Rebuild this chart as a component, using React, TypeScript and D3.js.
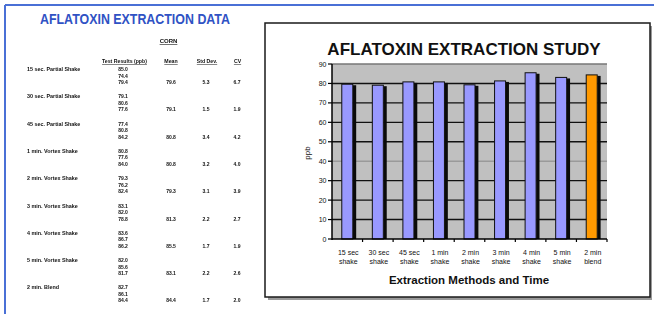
import React from "react";
import * as d3 from "d3";

// ---- chart data ----
const categories = [
  "15 sec shake",
  "30 sec shake",
  "45 sec shake",
  "1 min shake",
  "2 min shake",
  "3 min shake",
  "4 min shake",
  "5 min shake",
  "2 min blend",
];
const meanPpb = [79.6, 79.1, 80.8, 80.8, 79.3, 81.3, 85.5, 83.1, 84.4];
const highlightIndex = 8;
const yTicks = [0, 10, 20, 30, 40, 50, 60, 70, 80, 90];

// ---- table data ----
const tableLabels = [
  "15 sec. Partial Shake",
  "30 sec. Partial Shake",
  "45 sec. Partial Shake",
  "1 min. Vortex Shake",
  "2 min. Vortex Shake",
  "3 min. Vortex Shake",
  "4 min. Vortex Shake",
  "5 min. Vortex Shake",
  "2 min. Blend",
];
const readings = [
  ["85.0", "74.4", "79.4"],
  ["79.1", "80.6", "77.6"],
  ["77.4", "80.8", "84.2"],
  ["80.8", "77.6", "84.0"],
  ["79.3", "76.2", "82.4"],
  ["83.1", "82.0", "78.8"],
  ["83.6", "86.7", "86.2"],
  ["82.0", "85.6", "81.7"],
  ["82.7", "86.1", "84.4"],
];
const stdDevs = ["5.3", "1.5", "3.4", "3.2", "3.1", "2.2", "1.7", "2.2", "1.7"];
const cvs = ["6.7", "1.9", "4.2", "4.0", "3.9", "2.7", "1.9", "2.6", "2.0"];
const tableHeaders = ["Test Results (ppb)", "Mean", "Std Dev.", "CV"];

const FONT = "'Liberation Sans', Arial, Helvetica, sans-serif";

export default function App() {
  const W = 654;
  const H = 314;
  const plot = { left: 332, right: 607, top: 64, bottom: 239 };
  const x = d3
    .scaleBand<string>()
    .domain(categories)
    .range([plot.left, plot.right])
    .padding(0);
  const y = d3.scaleLinear().domain([0, 90]).range([plot.bottom, plot.top]);
  const bw = x.bandwidth();

  const colX = { val: 123, mean: 171, sd: 206, cv: 237 };
  const headerX = [124.5, 171, 207, 237.5];

  return (
    <svg
      width={W}
      height={H}
      style={{ position: "absolute", left: 0, top: 0, background: "#fff" }}
      fontFamily={FONT}
    >
      <defs>
        <filter id="scan" x="-5%" y="-5%" width="110%" height="110%">
          <feGaussianBlur stdDeviation="0.35" />
        </filter>
      </defs>
      <rect x={0} y={0} width={W} height={H} fill="#fff" />

      {/* page frame */}
      <line x1={5} x2={W} y1={5} y2={5} stroke="#4a70d6" strokeWidth={2} />
      <line x1={5} x2={5} y1={5} y2={H} stroke="#4a70d6" strokeWidth={2} />

      {/* left table */}
      <text
        x={135}
        y={23.5}
        textAnchor="middle"
        fontSize={14}
        fontWeight="bold"
        fill="#2f52c4"
        textLength={190}
        lengthAdjust="spacingAndGlyphs"
      >
        AFLATOXIN EXTRACTION DATA
      </text>
      <g filter="url(#scan)" fill="#111">
        <text x={168.5} y={43} textAnchor="middle" fontSize={6} fontWeight="bold" textDecoration="underline">
          CORN
        </text>
        {tableHeaders.map((h, i) => (
          <text
            key={h}
            x={headerX[i]}
            y={63}
            textAnchor="middle"
            fontSize={5.2}
            fontWeight="bold"
            textDecoration="underline"
          >
            {h}
          </text>
        ))}
        {tableLabels.map((lab, i) => {
          const y0 = 69.5 + i * 27.3;
          return (
            <g key={lab}>
              <text x={27} y={y0 + 1.5} fontSize={5.4} fontWeight="bold">
                {lab}
              </text>
              {readings[i].map((v, j) => (
                <text key={j} x={colX.val} y={y0 + j * 6.5 + 1.5} textAnchor="middle" fontSize={5} fontWeight="bold">
                  {v}
                </text>
              ))}
              <text x={colX.mean} y={y0 + 14.5} textAnchor="middle" fontSize={5} fontWeight="bold">
                {meanPpb[i].toFixed(1)}
              </text>
              <text x={colX.sd} y={y0 + 14.5} textAnchor="middle" fontSize={5} fontWeight="bold">
                {stdDevs[i]}
              </text>
              <text x={colX.cv} y={y0 + 14.5} textAnchor="middle" fontSize={5} fontWeight="bold">
                {cvs[i]}
              </text>
            </g>
          );
        })}
      </g>

      {/* chart box with shadow */}
      <rect x={268} y={26} width={384} height={274} fill="#9a9a9a" />
      <rect x={265} y={23} width={385} height={274} fill="#fff" stroke="#1a1a1a" strokeWidth={1.5} />

      <text
        x={464}
        y={55}
        textAnchor="middle"
        fontSize={17}
        fontWeight="bold"
        fill="#111"
      >
        AFLATOXIN EXTRACTION STUDY
      </text>

      {/* plot area */}
      <rect
        x={plot.left}
        y={plot.top}
        width={plot.right - plot.left}
        height={plot.bottom - plot.top}
        fill="#c0c0c0"
      />
      {yTicks
        .filter((t) => t > 0)
        .map((t) => (
          <line
            key={t}
            x1={plot.left}
            x2={plot.right}
            y1={y(t)}
            y2={y(t)}
            stroke={t === 40 ? "#9a9a9a" : t === 90 ? "#777" : "#111"}
            strokeWidth={1.4}
          />
        ))}

      {/* bars */}
      {categories.map((c, i) => {
        const cx = (x(c) as number) + bw / 2;
        const top = y(meanPpb[i]);
        const fill = i === highlightIndex ? "#ff9900" : "#9999ff";
        return (
          <g key={c}>
            <rect x={cx + 5.5} y={top + 1} width={3.4} height={plot.bottom - top - 1} fill="#0a0a0a" />
            <rect
              x={cx - 5.5}
              y={top}
              width={11}
              height={plot.bottom - top}
              fill={fill}
              stroke="#111"
              strokeWidth={1}
            />
          </g>
        );
      })}

      {/* axes */}
      <line x1={plot.left} x2={plot.left} y1={plot.top} y2={plot.bottom + 1} stroke="#000" strokeWidth={1.5} />
      <line x1={plot.left} x2={plot.right} y1={plot.bottom} y2={plot.bottom} stroke="#000" strokeWidth={1.5} />
      {yTicks.map((t) => (
        <g key={t}>
          <line x1={plot.left - 4} x2={plot.left} y1={y(t)} y2={y(t)} stroke="#000" strokeWidth={1.2} />
          <text x={plot.left - 5.5} y={y(t) + 2.5} textAnchor="end" fontSize={7} fill="#111">
            {t}
          </text>
        </g>
      ))}
      {categories.map((c, i) => {
        const bx = (x(c) as number) + bw;
        return <line key={"t" + i} x1={bx} x2={bx} y1={plot.bottom} y2={plot.bottom + 3} stroke="#000" strokeWidth={1.2} />;
      })}
      {categories.map((c) => {
        const cx = (x(c) as number) + bw / 2 + 1;
        const k = c.lastIndexOf(" ");
        return (
          <g key={"l" + c}>
            <text x={cx} y={255} textAnchor="middle" fontSize={7} fill="#111">
              {c.slice(0, k)}
            </text>
            <text x={cx} y={264} textAnchor="middle" fontSize={7} fill="#111">
              {c.slice(k + 1)}
            </text>
          </g>
        );
      })}

      <text
        transform="translate(310,153) rotate(-90)"
        textAnchor="middle"
        fontSize={8}
        fill="#111"
      >
        ppb
      </text>
      <text x={469} y={284} textAnchor="middle" fontSize={11.5} fontWeight="bold" fill="#111">
        Extraction Methods and Time
      </text>
    </svg>
  );
}
